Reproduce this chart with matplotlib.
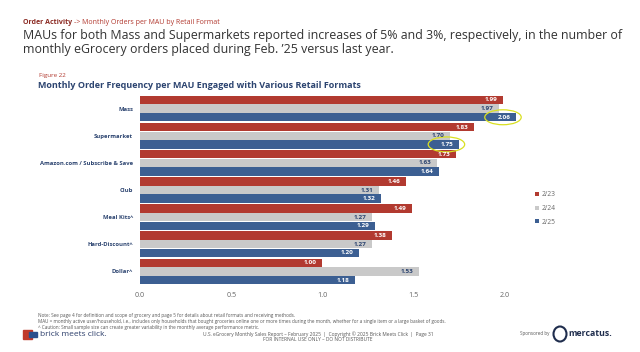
import matplotlib
matplotlib.use("Agg")
import matplotlib.pyplot as plt
from matplotlib.patches import Ellipse, Rectangle
import numpy as np

plt.rcParams['font.family'] = ['Open Sans', 'DejaVu Sans']

categories = ['Mass', 'Supermarket', 'Amazon.com / Subscribe & Save', 'Club',
              'Meal Kits^', 'Hard-Discount^', 'Dollar^']
feb23 = [1.99, 1.83, 1.73, 1.46, 1.49, 1.38, 1.00]
feb24 = [1.97, 1.70, 1.63, 1.31, 1.27, 1.27, 1.53]
feb25 = [2.06, 1.75, 1.64, 1.32, 1.29, 1.20, 1.18]
series_names = ['2/23', '2/24', '2/25']
ticks = [0.0, 0.5, 1.0, 1.5, 2.0]

red = '#B23A30'
gray = '#C9C9C9'
blue = '#3C5F92'
navy = '#2C4470'

W, H = 640, 352
fig = plt.figure(figsize=(W / 100, H / 100), dpi=100)
ax = fig.add_axes([140 / W, 1 - 285 / H, 456 / W, 190 / H])

y = np.arange(len(categories))
h = 0.31
series = [feb23, feb24, feb25]
colors = [red, gray, blue]
txt_colors = ['white', navy, 'white']
for k, (vals, c, tc) in enumerate(zip(series, colors, txt_colors)):
    pos = y + (k - 1) * 0.32
    ax.barh(pos, vals, height=h, color=c, label=series_names[k])
    for p, v in zip(pos, vals):
        ax.text(v - 0.03, p, f'{v:.2f}', ha='right', va='center',
                fontsize=4.6, color=tc, fontweight='bold')

ax.set_xlim(0, 2.5)
ax.set_ylim(len(categories) - 0.5, -0.5)
ax.set_yticks(y)
ax.set_yticklabels(categories, fontsize=4.25, color=navy, fontweight='bold')
ax.set_xticks(ticks)
ax.set_xticklabels([f'{t:.1f}' for t in ticks], fontsize=5.2, color='#666666')
ax.tick_params(length=0, pad=5)
for s in ax.spines.values():
    s.set_visible(False)

# highlighted values
for v, p in [(feb25[0], 0 + 0.32), (feb25[1], 1 + 0.32)]:
    ax.add_patch(Ellipse((v - 0.07, p), 0.2, 0.55, fill=False,
                         edgecolor='#D9E021', linewidth=0.9, clip_on=False))

leg = ax.legend(loc='upper left', bbox_to_anchor=(0.86, 0.51), frameon=False,
                fontsize=4.8, handlelength=0.55, handleheight=0.55,
                labelspacing=1.0, handletextpad=0.3, borderpad=0)
for t in leg.get_texts():
    t.set_color('#666666')

# header texts
t1 = fig.text(23 / W, 1 - 22 / H, 'Order Activity', fontsize=5.0, color='#8B2A22',
              fontweight='bold', va='center')
fig.canvas.draw()
bb = t1.get_window_extent()
fig.text(bb.x1 / W + 2 / W, 1 - 22 / H, '-> Monthly Orders per MAU by Retail Format',
         fontsize=5.0, color='#B23A30', va='center')
fig.text(23 / W, 1 - 35 / H,
         'MAUs for both Mass and Supermarkets reported increases of 5% and 3%, respectively, in the number of',
         fontsize=8.9, color='#333333', va='center')
fig.text(23 / W, 1 - 49 / H,
         'monthly eGrocery orders placed during Feb. \u201925 versus last year.',
         fontsize=8.9, color='#333333', va='center')
fig.text(39 / W, 1 - 75 / H, 'Figure 22', fontsize=4.5, color='#B23A30', va='center')
fig.text(38 / W, 1 - 85 / H,
         'Monthly Order Frequency per MAU Engaged with Various Retail Formats',
         fontsize=6.5, color=navy, fontweight='bold', va='center')

# footnotes
notes = ['Note: See page 4 for definition and scope of grocery and page 5 for details about retail formats and receiving methods.',
         'MAU = monthly active user/household, i.e., includes only households that bought groceries online one or more times during the month, whether for a single item or a large basket of goods.',
         '^ Caution: Small sample size can create greater variability in the monthly average performance metric.']
for i, n in enumerate(notes):
    fig.text(38 / W, 1 - (315 + i * 6) / H, n, fontsize=3.35, color='#555555', va='center')

fig.text(318 / W, 1 - 334 / H,
         'U.S. eGrocery Monthly Sales Report \u2013 February 2025  |  Copyright \u00a9 2025 Brick Meets Click  |  Page 31',
         fontsize=3.5, color='#555555', ha='center', va='center')
fig.text(318 / W, 1 - 339.5 / H, 'FOR INTERNAL USE ONLY \u2013 DO NOT DISTRIBUTE',
         fontsize=3.5, color='#555555', ha='center', va='center')

# logos
fig.patches.append(Rectangle((23 / W, 1 - 339 / H), 9 / W, 9 / H, color='#C0392B',
                             transform=fig.transFigure))
fig.patches.append(Rectangle((29 / W, 1 - 337 / H), 8 / W, 5 / H, color='#2C4F8C',
                             transform=fig.transFigure))
fig.text(40 / W, 1 - 334 / H, 'brick meets click.', fontsize=6.0, color='#2C3E6B',
         va='center')
fig.text(550 / W, 1 - 334 / H, 'Sponsored by', fontsize=3.3, color='#555555',
         ha='right', va='center')
fig.patches.append(Ellipse((560 / W, 1 - 334 / H), 13 / W, 15 / H, fill=False,
                           edgecolor='#1F2D4D', linewidth=1.5,
                           transform=fig.transFigure))
fig.text(568 / W, 1 - 333.5 / H, 'mercatus.', fontsize=6.3, color='#1F2D4D',
         fontweight='bold', va='center')

fig.savefig('out.png', dpi=100)
